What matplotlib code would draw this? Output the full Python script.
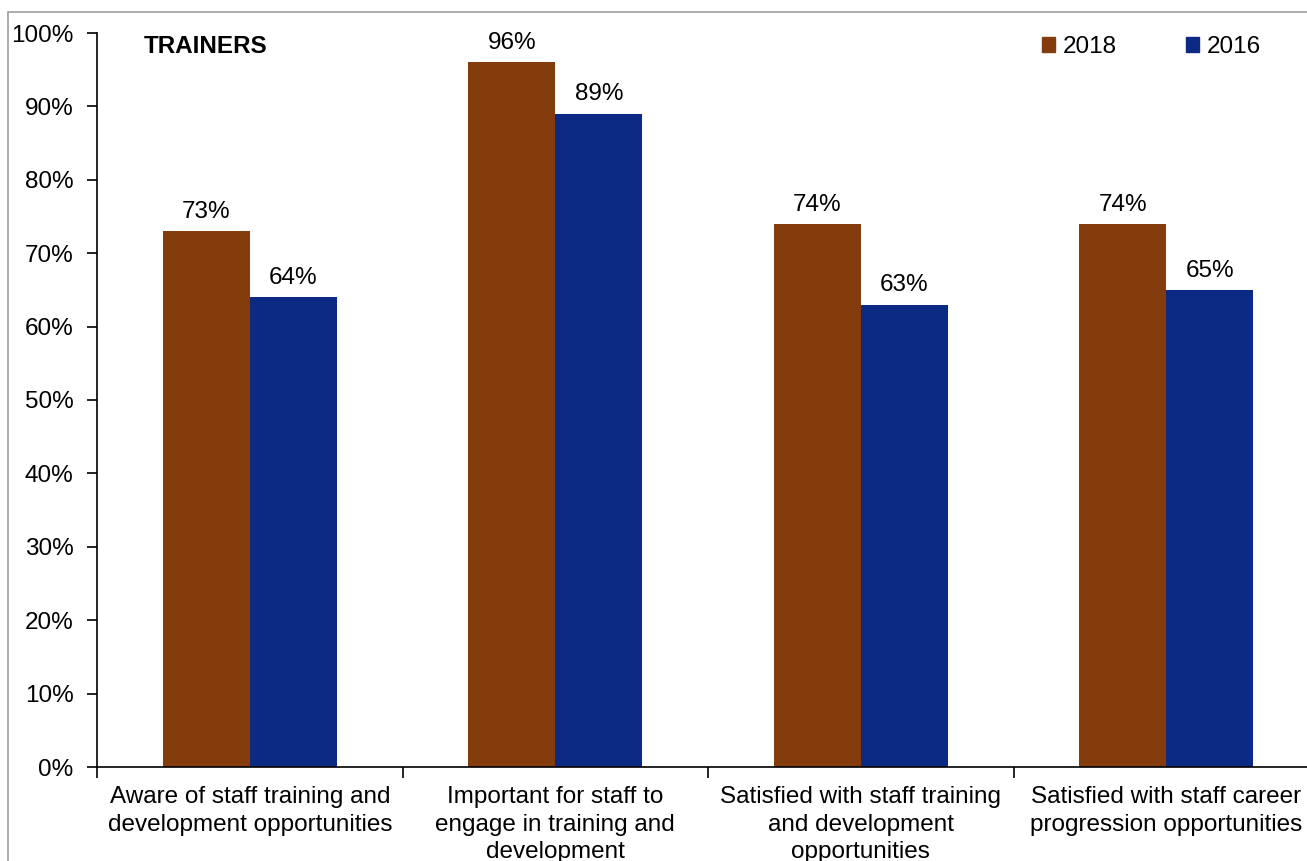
import matplotlib
matplotlib.use("Agg")
from matplotlib import pyplot as plt
from matplotlib.patches import Rectangle, Patch
import numpy as np

plt.rcParams['font.family'] = ['Liberation Sans', 'DejaVu Sans']

categorias = ["Aware of staff training and\ndevelopment opportunities",
              "Important for staff to\nengage in training and\ndevelopment",
              "Satisfied with staff training\nand development\nopportunities",
              "Satisfied with staff career\nprogression opportunities"]
anios = ["2018", "2016"]
valores_2018 = [73, 96, 74, 74]
valores_2016 = [64, 89, 63, 65]
colores = ["#843C0C", "#0B2A83"]

fs = 17.5  # tamano de letra comun

fig = plt.figure(figsize=(13.07, 8.61), dpi=100)
# el eje sigue mas alla del borde derecho, como en la captura
ax = fig.add_axes([97/1307, 94/861, 1222/1307, 734/861])

x = np.arange(len(categorias))
ancho = 0.285
series = [valores_2018, valores_2016]
for i, (vals, anio) in enumerate(zip(series, anios)):
    pos = x + (i - 0.5) * ancho
    barras = ax.bar(pos, vals, width=ancho, color=colores[i], label=anio)
    for b, v in zip(barras, vals):
        ax.annotate("{}%".format(v), (b.get_x() + b.get_width()/2, v),
                    xytext=(0, 6), textcoords="offset points",
                    ha="center", va="bottom", fontsize=fs)

ax.set_xlim(-0.5, len(categorias) - 0.5)
ax.set_ylim(0, 100)
ax.set_yticks(range(0, 101, 10))
ax.set_yticklabels(["{}%".format(t) for t in range(0, 101, 10)], fontsize=fs)
ax.set_xticks(np.arange(-0.5, len(categorias), 1))
ax.set_xticklabels([])
ax.set_xticks(x, minor=True)
ax.set_xticklabels(categorias, minor=True, fontsize=fs, linespacing=1.32)
ax.tick_params(axis="x", which="minor", length=0, pad=14)
ax.tick_params(axis="x", which="major", length=8, direction="out", width=1.2)
ax.tick_params(axis="y", length=7, direction="out", width=1.2, pad=10)
ax.spines["top"].set_visible(False)
ax.spines["right"].set_visible(False)
ax.spines["left"].set_linewidth(1.2)
ax.spines["bottom"].set_linewidth(1.2)

ax.text(0.038, 0.981, "TRAINERS", transform=ax.transAxes, fontsize=fs,
        fontweight="bold", ha="left", va="center")

handles = [Patch(color=c) for c in colores]
fig.legend(handles, anios, loc="center left", bbox_to_anchor=(1020/1307, 1 - 47/861),
           ncol=2, frameon=False, fontsize=fs, handlelength=0.55, handleheight=0.55,
           handletextpad=0.3, columnspacing=2.85)

# borde gris del area del grafico
fig.add_artist(Rectangle((8/1307, -0.02), 1.1, 1.02 - 12/861, transform=fig.transFigure,
                         fill=False, edgecolor="#A0A0A0", linewidth=1.2))

fig.savefig("out.png", dpi=100)
